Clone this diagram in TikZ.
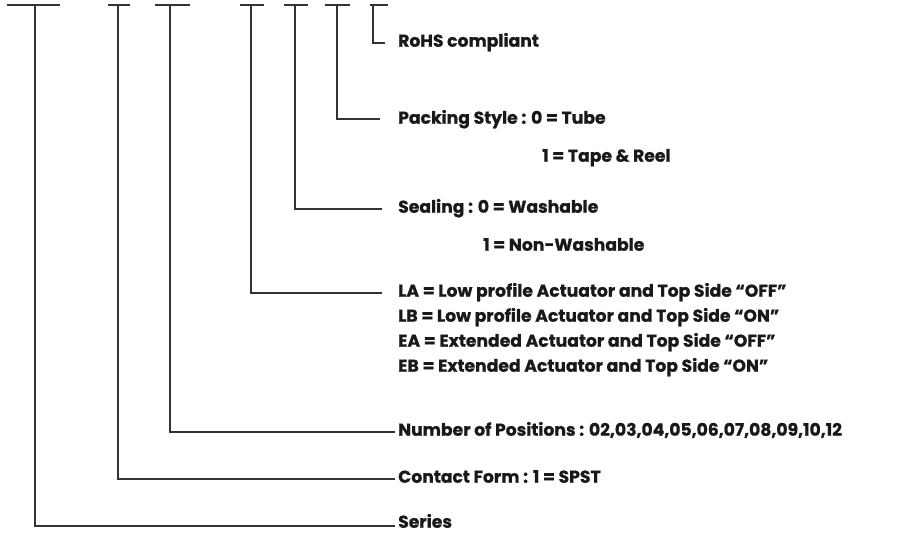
\documentclass[tikz,border=0pt]{standalone}
\usepackage{fontspec}
\setmainfont{Poppins}[BoldFeatures={FakeBold=0.8}]
\begin{document}
\begin{tikzpicture}[x=1pt,y=-1pt,
  ln/.style={draw=black!80, line width=1.2pt},
  lbl/.style={anchor=mid west, inner sep=0pt, font=\fontsize{17.2}{20}\selectfont\bfseries, text=black!90}]
\useasboundingbox (0,0) rectangle (900,534);
% top bars
\foreach \a/\b in {7/60,108/130,155/190,240/264,284/308,325/350,370/388}{
  \draw[ln] (\a,5) -- (\b,5);
}
\coordinate (c1) at (35,5); \coordinate (c2) at (118,5); \coordinate (c3) at (170,5);
\coordinate (c4) at (251,5); \coordinate (c5) at (295,5); \coordinate (c6) at (337,5); \coordinate (c7) at (373,5);
\coordinate (e1) at (395,526); \coordinate (e2) at (395,479); \coordinate (e3) at (395,432);
\coordinate (e4) at (382,293); \coordinate (e5) at (382,209); \coordinate (e6) at (380,119); \coordinate (e7) at (385,43);
\node[lbl] (rohs) at (398,44) {RoHS compliant};
\node[lbl] (pack) at (398,121) {Packing Style : 0 = Tube};
\node[lbl] (tape) at (542,159) {1 = Tape \& Reel};
\node[lbl] (seal) at (398,210) {Sealing : 0 = Washable};
\node[lbl] (nonw) at (483,248) {1 = Non-Washable};
\node[lbl] (la) at (398,294) {LA = Low profile Actuator and Top Side “OFF”};
\node[lbl] (lb) at (398,319) {LB = Low profile Actuator and Top Side “ON”};
\node[lbl] (ea) at (398,344) {EA = Extended Actuator and Top Side “OFF”};
\node[lbl] (eb) at (398,369) {EB = Extended Actuator and Top Side “ON”};
\node[lbl] (num) at (398,433) {Number of Positions : 02,03,04,05,06,07,08,09,10,12};
\node[lbl] (cf) at (398,480) {Contact Form : 1 = SPST};
\node[lbl] (ser) at (398,525) {Series};
\foreach \i in {1,...,7}{ \draw[ln] (c\i) |- (e\i); }
\end{tikzpicture}
\end{document}
